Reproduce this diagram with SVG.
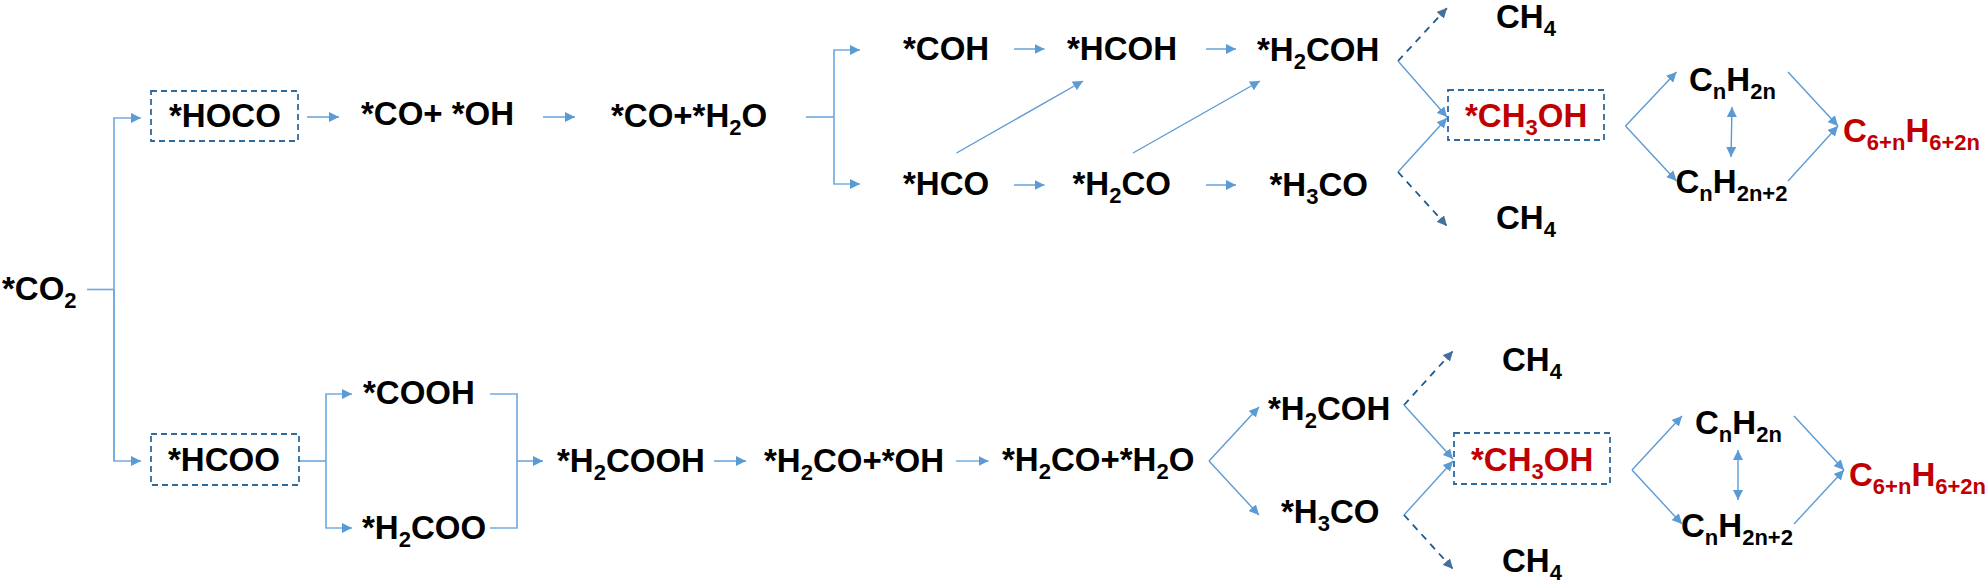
<svg xmlns="http://www.w3.org/2000/svg" width="1987" height="584" viewBox="0 0 1987 584">
<style>
text{font-family:"Liberation Sans",Arial,sans-serif;font-weight:700;font-size:33px;fill:#000}
text.r{fill:#c00000}
tspan.s{font-size:22px}
.b{fill:none;stroke:#2f6a9f;stroke-width:1.8;stroke-dasharray:6 4}
.c{fill:none;stroke:#5b9bd5;stroke-width:1.4}
.o{fill:none;stroke:#74ace0;stroke-width:1.7}
.a{marker-end:url(#h)}
.d{fill:none;stroke:#1f5a8f;stroke-width:1.8;stroke-dasharray:7 6;marker-end:url(#k)}
.u{marker-start:url(#h2);marker-end:url(#h)}
</style>
<defs>
<marker id="h" markerUnits="userSpaceOnUse" markerWidth="11" markerHeight="10" refX="10" refY="5" orient="auto"><path d="M0 0L10 5L0 10z" fill="#5b9bd5"/></marker>
<marker id="h2" markerUnits="userSpaceOnUse" markerWidth="11" markerHeight="10" refX="0" refY="5" orient="auto"><path d="M10 0L0 5L10 10z" fill="#5b9bd5"/></marker>
<marker id="k" markerUnits="userSpaceOnUse" markerWidth="11" markerHeight="10" refX="10" refY="5" orient="auto"><path d="M0 0L10 5L0 10z" fill="#41719c"/></marker>
</defs>
<g id="connectors">
<path class="o" d="M87 289.5H114"/>
<path class="o a" d="M114 461V118H141"/>
<path class="o a" d="M114 289V461H141"/>
<path class="o a" d="M307 117H339"/>
<path class="o a" d="M543 117H575"/>
<path class="o" d="M806 117H834"/>
<path class="o a" d="M834 117V50H860"/>
<path class="o a" d="M834 117V184H860"/>
<path class="c a" d="M1014 49H1044.5"/>
<path class="c a" d="M1206 49H1236"/>
<path class="o a" d="M1014 185H1044.5"/>
<path class="o a" d="M1206 185H1236"/>
<path class="c a" d="M956.5 153L1083 81"/>
<path class="c a" d="M1133 153L1260 81"/>
<path class="d" d="M1398 61L1447 8"/>
<path class="c a" d="M1398 61L1447 117"/>
<path class="c a" d="M1398 172L1447 118"/>
<path class="d" d="M1398 172L1447 226"/>
<path class="c a" d="M1625.5 126L1676.5 72"/>
<path class="c a" d="M1625.5 126L1676.5 181"/>
<path class="c u" d="M1732 107L1731 157"/>
<path class="c a" d="M1788 72L1838 126"/>
<path class="c a" d="M1788 181L1838 126"/>
<path class="o" d="M299 461H326"/>
<path class="o a" d="M326 461V394H352"/>
<path class="o a" d="M326 461V528H352"/>
<path class="o" d="M490 394H517V528H490"/>
<path class="o a" d="M517 461H543"/>
<path class="o a" d="M714 461H746"/>
<path class="o a" d="M956 461H988.5"/>
<path class="c a" d="M1209 461L1259 407"/>
<path class="c a" d="M1209 461L1259 515"/>
<path class="d" d="M1404 405L1453 351"/>
<path class="c a" d="M1404 405L1453 459"/>
<path class="c a" d="M1404 515L1453 461"/>
<path class="d" d="M1404 515L1453 569"/>
<path class="c a" d="M1632 470L1682 416"/>
<path class="c a" d="M1632 470L1682 524"/>
<path class="c u" d="M1738 450V500"/>
<path class="c a" d="M1794 416L1844 470"/>
<path class="c a" d="M1794 524L1844 470"/>
</g>
<g id="n-co2"><text x="2" y="300">*CO<tspan class="s" dy="7.5">2</tspan></text></g>
<g id="n-hoco"><rect class="b" x="151" y="91" width="147" height="50"/><text x="169" y="127">*HOCO</text></g>
<g id="n-co-oh"><text x="361" y="125">*CO+ *OH</text></g>
<g id="n-co-h2o"><text x="611" y="127">*CO+*H<tspan class="s" dy="7.5">2</tspan><tspan dy="-7.5">O</tspan></text></g>
<g id="n-coh"><text x="903" y="60">*COH</text></g>
<g id="n-hcoh"><text x="1067" y="60">*HCOH</text></g>
<g id="n-h2coh-1"><text x="1257" y="61">*H<tspan class="s" dy="7.5">2</tspan><tspan dy="-7.5">COH</tspan></text></g>
<g id="n-hco"><text x="903" y="195">*HCO</text></g>
<g id="n-h2co"><text x="1072.500" y="195">*H<tspan class="s" dy="7.5">2</tspan><tspan dy="-7.5">CO</tspan></text></g>
<g id="n-h3co-1"><text x="1269.500" y="196">*H<tspan class="s" dy="7.5">3</tspan><tspan dy="-7.5">CO</tspan></text></g>
<g id="n-ch4-1"><text x="1496" y="28">CH<tspan class="s" dy="7.5">4</tspan></text></g>
<g id="n-ch4-2"><text x="1496" y="229">CH<tspan class="s" dy="7.5">4</tspan></text></g>
<g id="n-ch3oh-1"><rect class="b" x="1448" y="90" width="156" height="50"/><text class="r" x="1465" y="127">*CH<tspan class="s" dy="7.5">3</tspan><tspan dy="-7.5">OH</tspan></text></g>
<g id="n-cnh2n-1"><text x="1689" y="91">C<tspan class="s" dy="7.5">n</tspan><tspan dy="-7.5">H</tspan><tspan class="s" dy="7.5">2n</tspan></text></g>
<g id="n-cnh2n2-1"><text x="1675.500" y="193">C<tspan class="s" dy="7.5">n</tspan><tspan dy="-7.5">H</tspan><tspan class="s" dy="7.5">2n+2</tspan></text></g>
<g id="n-c6-1"><text class="r" x="1843" y="142">C<tspan class="s" dy="7.5">6+n</tspan><tspan dy="-7.5">H</tspan><tspan class="s" dy="7.5">6+2n</tspan></text></g>
<g id="n-hcoo"><rect class="b" x="151" y="434" width="148" height="51"/><text x="168" y="471">*HCOO</text></g>
<g id="n-cooh"><text x="363" y="404">*COOH</text></g>
<g id="n-h2coo"><text x="362" y="539">*H<tspan class="s" dy="7.5">2</tspan><tspan dy="-7.5">COO</tspan></text></g>
<g id="n-h2cooh"><text x="557" y="472">*H<tspan class="s" dy="7.5">2</tspan><tspan dy="-7.5">COOH</tspan></text></g>
<g id="n-h2co-oh"><text x="764" y="472">*H<tspan class="s" dy="7.5">2</tspan><tspan dy="-7.5">CO+*OH</tspan></text></g>
<g id="n-h2co-h2o"><text x="1002" y="471">*H<tspan class="s" dy="7.5">2</tspan><tspan dy="-7.5">CO+*H</tspan><tspan class="s" dy="7.5">2</tspan><tspan dy="-7.5">O</tspan></text></g>
<g id="n-h2coh-2"><text x="1268" y="420">*H<tspan class="s" dy="7.5">2</tspan><tspan dy="-7.5">COH</tspan></text></g>
<g id="n-h3co-2"><text x="1281" y="523">*H<tspan class="s" dy="7.5">3</tspan><tspan dy="-7.5">CO</tspan></text></g>
<g id="n-ch4-3"><text x="1502" y="371">CH<tspan class="s" dy="7.5">4</tspan></text></g>
<g id="n-ch4-4"><text x="1502" y="572">CH<tspan class="s" dy="7.5">4</tspan></text></g>
<g id="n-ch3oh-2"><rect class="b" x="1454" y="433" width="156" height="51"/><text class="r" x="1471" y="471">*CH<tspan class="s" dy="7.5">3</tspan><tspan dy="-7.5">OH</tspan></text></g>
<g id="n-cnh2n-2"><text x="1695" y="434">C<tspan class="s" dy="7.5">n</tspan><tspan dy="-7.5">H</tspan><tspan class="s" dy="7.5">2n</tspan></text></g>
<g id="n-cnh2n2-2"><text x="1681" y="537">C<tspan class="s" dy="7.5">n</tspan><tspan dy="-7.5">H</tspan><tspan class="s" dy="7.5">2n+2</tspan></text></g>
<g id="n-c6-2"><text class="r" x="1849" y="486">C<tspan class="s" dy="7.5">6+n</tspan><tspan dy="-7.5">H</tspan><tspan class="s" dy="7.5">6+2n</tspan></text></g>
</svg>
